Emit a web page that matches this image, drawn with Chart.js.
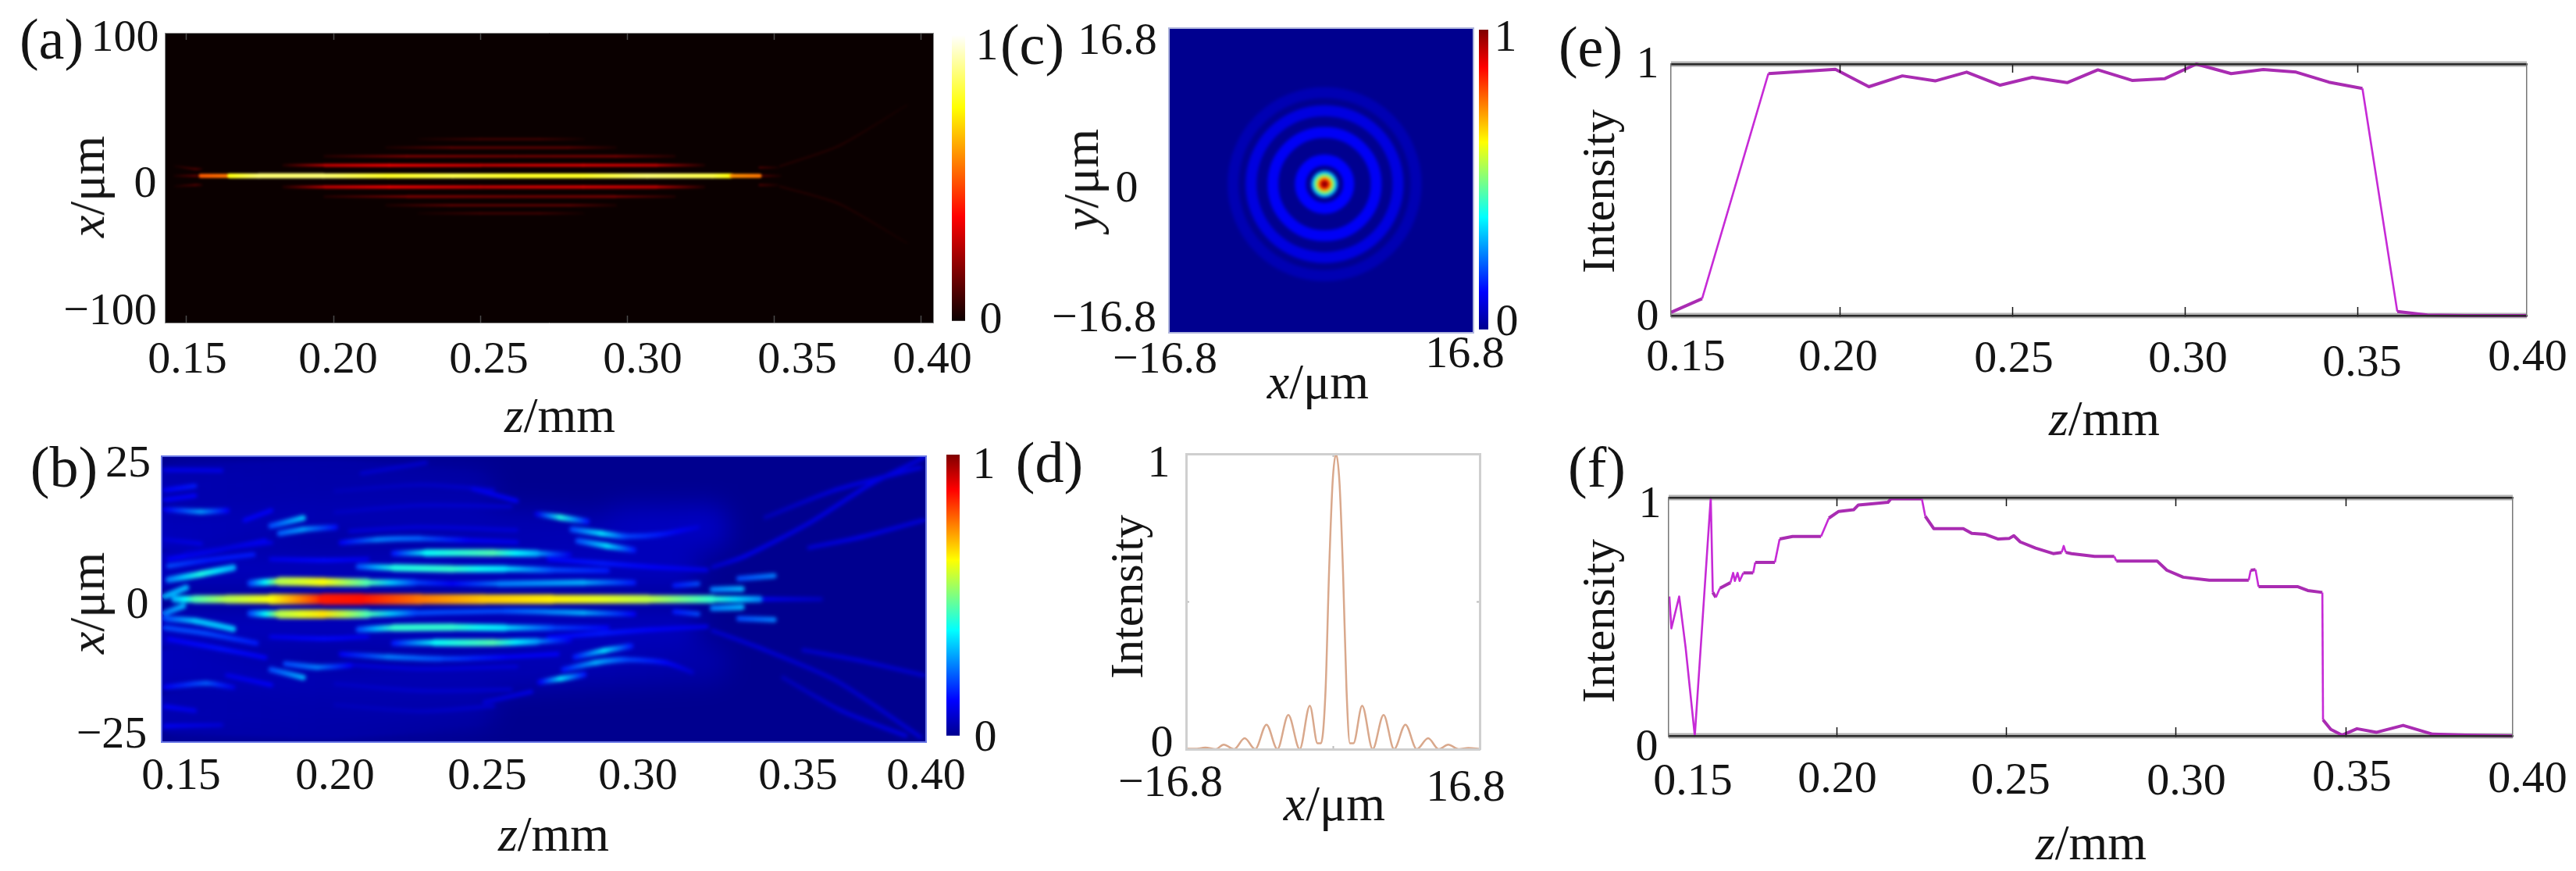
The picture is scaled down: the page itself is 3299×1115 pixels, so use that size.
<!DOCTYPE html>
<html>
<head>
<meta charset="utf-8">
<title>Intensity panels</title>
<script src="https://cdn.jsdelivr.net/npm/chart.js@4"></script>
<style>
html, body { margin:0; padding:0; background:#fff; }
#page { position:relative; width:3299px; height:1115px; overflow:hidden; background:#fff; }
#page canvas { position:absolute; left:0; top:0; }
.txt { position:absolute; white-space:nowrap; color:#141414; font-family:"Liberation Serif",serif; line-height:1; }
</style>
</head>
<body>
<div id="page"></div>
<script>
// ---- tick values and labels
const zTicks = [0.15, 0.20, 0.25, 0.30, 0.35, 0.40];
const zLabels = ['0.15', '0.20', '0.25', '0.30', '0.35', '0.40'];
const xaTicks = [100, 0, -100];
const xaLabels = ['100', '0', '\u2212100'];
const xbTicks = [25, 0, -25];
const xbLabels = ['25', '0', '\u221225'];
const spanTicks = [-16.8, 0, 16.8];
const spanLabelsX = ['\u221216.8', '', '16.8'];
const cYLabels = ['16.8', '0', '\u221216.8'];
const cYTicks = [16.8, 0, -16.8];
const intTicks = [0, 0.5, 1];
const intLabels = ['0', '', '1'];
const barTicks = [1, 0];
const barLabels = ['1', '0'];

// ---- panel (a): [z, x, level]
const aCore = [[0.1548,1.3,0.5],[0.1645,1.3,0.54],[0.1647,1.3,0.76],[0.1746,1.3,0.86],[0.1966,1.3,0.86],[0.2186,1.3,0.78],[0.2407,1.3,0.82],[0.2627,1.3,0.78],[0.2848,1.3,0.78],[0.3068,1.3,0.86],[0.3288,1.3,0.82],[0.3353,1.3,0.74],[0.3355,1.3,0.58],[0.3450,1.3,0.54]];
const aLobes = [
  [[0.183,8.6,0.03],[0.197,8.6,0.26],[0.219,8.6,0.33],[0.250,8.6,0.27],[0.285,8.6,0.3],[0.310,8.6,0.26],[0.326,8.6,0.03]],
  [[0.183,-6.4,0.03],[0.197,-6.4,0.26],[0.219,-6.4,0.33],[0.250,-6.4,0.27],[0.285,-6.4,0.3],[0.310,-6.4,0.26],[0.326,-6.4,0.03]],
  [[0.197,14.8,0.03],[0.225,14.8,0.16],[0.262,14.8,0.14],[0.296,14.8,0.15],[0.316,14.8,0.03]],
  [[0.197,-13.0,0.03],[0.225,-13.0,0.16],[0.262,-13.0,0.14],[0.296,-13.0,0.15],[0.316,-13.0,0.03]],
  [[0.218,20.8,0.02],[0.240,20.8,0.11],[0.280,20.8,0.11],[0.296,20.8,0.02]],
  [[0.218,-19.0,0.02],[0.240,-19.0,0.11],[0.280,-19.0,0.11],[0.296,-19.0,0.02]],
  [[0.229,26.6,0.01],[0.250,26.6,0.07],[0.270,26.6,0.07],[0.285,26.6,0.01]],
  [[0.229,-24.6,0.01],[0.250,-24.6,0.07],[0.270,-24.6,0.07],[0.285,-24.6,0.01]],
  [[0.146,8,0.01],[0.153,6,0.09],[0.155,6,0.04]],
  [[0.146,1.3,0.02],[0.153,1.3,0.11],[0.155,1.3,0.05]],
  [[0.146,-6,0.01],[0.153,-5,0.09],[0.155,-5,0.04]],
  [[0.345,7,0.08],[0.351,7,0.02]],
  [[0.345,1.3,0.1],[0.352,1.3,0.02]],
  [[0.345,-5,0.08],[0.351,-5,0.02]],
  [[0.352,8,0.03],[0.372,22,0.03],[0.395,50,0.01]],
  [[0.352,-6,0.03],[0.372,-18,0.03],[0.395,-45,0.01]]
];

// ---- panel (b): [z, x, level]
const bHaze = [
  [[0.146,20,0.04],[0.200,21,0.03],[0.250,19,0.03]],
  [[0.146,12,0.05],[0.200,14,0.04],[0.280,12,0.04],[0.330,11,0.03]],
  [[0.146,5,0.05],[0.320,5,0.05]],
  [[0.146,-5,0.05],[0.320,-5,0.05]],
  [[0.146,-12,0.05],[0.200,-14,0.04],[0.280,-12,0.04],[0.330,-11,0.03]],
  [[0.146,-20,0.04],[0.200,-21,0.03],[0.250,-19,0.03]],
  [[0.300,13,0.05],[0.330,13,0.06]]
];
const bFine = [
  [[0.180,7.0,0.1],[0.198,6.8,0.13],[0.213,7.0,0.1]],
  [[0.275,7.0,0.12],[0.293,6.3,0.15],[0.311,5.6,0.12],[0.329,5.1,0.1]],
  [[0.207,11.9,0.08],[0.231,12.6,0.08],[0.264,12.1,0.08]],
  [[0.202,15.2,0.06],[0.231,16.4,0.07],[0.262,16.2,0.07]],
  [[0.202,18.9,0.05],[0.231,20,0.06],[0.256,19.1,0.07]],
  [[0.145,7,0.12],[0.163,8.7,0.14],[0.178,10.2,0.12]],
  [[0.180,-6.6,0.1],[0.198,-6.9,0.13],[0.213,-6.6,0.1]],
  [[0.275,-6.7,0.12],[0.293,-6,0.15],[0.311,-5.3,0.12],[0.329,-4.8,0.1]],
  [[0.207,-11.5,0.08],[0.231,-12.2,0.08],[0.264,-11.8,0.08]],
  [[0.202,-14.8,0.06],[0.231,-16,0.07],[0.262,-15.8,0.07]],
  [[0.202,-18.5,0.05],[0.231,-19.6,0.06],[0.256,-18.7,0.07]],
  [[0.145,-7,0.12],[0.163,-8.7,0.14],[0.178,-10.2,0.12]]
];
const bUpper = [
  [[0.173,2.8,0.2],[0.183,3.1,0.55],[0.198,3.0,0.62],[0.213,2.9,0.45],[0.229,2.9,0.2],[0.242,2.7,0.12],[0.258,2.7,0.25],[0.287,2.9,0.3],[0.304,2.9,0.15]],
  [[0.210,5.7,0.2],[0.222,5.5,0.4],[0.242,5.3,0.42],[0.260,5.3,0.35],[0.276,5.1,0.2],[0.295,5.0,0.15]],
  [[0.222,8.0,0.15],[0.233,8.1,0.38],[0.256,8.1,0.45],[0.271,8.0,0.3],[0.282,7.8,0.1]],
  [[0.204,9.9,0.12],[0.216,10.4,0.25],[0.231,10.6,0.22],[0.247,10.3,0.12],[0.264,10.0,0.1]],
  [[0.271,14.9,0.1],[0.279,14.3,0.4],[0.288,13.6,0.15]],
  [[0.283,12.2,0.2],[0.293,11.5,0.35],[0.301,11.0,0.2],[0.313,11.3,0.15],[0.326,12.6,0.08]],
  [[0.285,10.2,0.2],[0.295,9.3,0.35],[0.304,8.6,0.15]],
  [[0.180,12.8,0.2],[0.191,14.2,0.32]],
  [[0.183,11.5,0.22],[0.191,12.2,0.28],[0.202,12.6,0.14]],
  [[0.144,15.7,0.12],[0.156,15.3,0.28],[0.165,15.5,0.12]],
  [[0.144,19.1,0.12],[0.154,19.8,0.15]],
  [[0.144,22.6,0.1],[0.163,22.5,0.1]],
  [[0.144,17.4,0.12],[0.154,18.1,0.12]],
  [[0.171,13.8,0.12],[0.180,15.5,0.12]],
  [[0.145,3.4,0.25],[0.156,4.4,0.4],[0.167,5.5,0.3]],
  [[0.145,5.8,0.2],[0.158,6.8,0.15],[0.174,7.8,0.15]],
  [[0.151,8.0,0.08],[0.180,9.9,0.1]],
  [[0.144,0.5,0.3],[0.151,2.0,0.3]],
  [[0.144,10.4,0.08],[0.156,9.7,0.1]],
  [[0.211,22,0.07],[0.233,23.9,0.07]],
  [[0.249,19.3,0.1],[0.264,17.2,0.12]]
];
const bLower = [
  [[0.173,-2.5,0.2],[0.183,-2.6,0.55],[0.198,-2.6,0.65],[0.213,-2.6,0.45],[0.229,-2.4,0.2],[0.260,-2.1,0.2],[0.287,-2.4,0.3],[0.304,-2.6,0.12]],
  [[0.210,-5.3,0.2],[0.222,-5.0,0.42],[0.242,-4.9,0.42],[0.260,-5.0,0.35],[0.276,-5.0,0.2],[0.295,-5.0,0.12]],
  [[0.222,-7.7,0.15],[0.236,-7.6,0.38],[0.256,-7.6,0.45],[0.271,-7.4,0.28],[0.282,-7.2,0.1]],
  [[0.204,-9.6,0.12],[0.220,-10.1,0.25],[0.238,-10.4,0.2],[0.260,-10.1,0.12],[0.278,-9.6,0.12]],
  [[0.272,-14.5,0.12],[0.279,-13.9,0.35],[0.287,-13.2,0.15]],
  [[0.280,-12.3,0.15],[0.291,-11.1,0.3],[0.301,-10.6,0.2],[0.315,-11.1,0.13],[0.324,-12.8,0.07]],
  [[0.284,-10.1,0.15],[0.294,-9.0,0.35],[0.303,-8.2,0.15]],
  [[0.180,-12.3,0.2],[0.191,-13.7,0.3]],
  [[0.185,-11.3,0.2],[0.196,-11.9,0.25],[0.207,-11.6,0.12]],
  [[0.144,-15.4,0.12],[0.158,-14.7,0.22],[0.167,-15.4,0.1]],
  [[0.144,-18.8,0.12],[0.154,-19.5,0.1]],
  [[0.144,-22.2,0.12],[0.163,-22,0.08]],
  [[0.144,-3.4,0.2],[0.154,-3.8,0.32],[0.167,-5.2,0.32]],
  [[0.144,-5,0.2],[0.158,-6,0.2],[0.175,-7.7,0.15]],
  [[0.165,-13.3,0.1],[0.180,-15,0.12]],
  [[0.144,-2.4,0.25],[0.150,-1.2,0.3]],
  [[0.253,-18,0.08],[0.269,-16.2,0.1]]
];
const bRight = [
  [[0.340,3.6,0.2],[0.352,4.1,0.25]],
  [[0.331,1.7,0.25],[0.341,1.8,0.3]],
  [[0.318,2.4,0.15],[0.326,2.7,0.2]],
  [[0.340,-3.4,0.2],[0.352,-3.6,0.25]],
  [[0.331,-1.6,0.25],[0.341,-1.4,0.3]],
  [[0.318,-2.2,0.15],[0.326,-2.6,0.2]],
  [[0.346,0,0.12],[0.368,0,0.06]],
  [[0.331,5.6,0.07],[0.342,7.5,0.1],[0.364,13.3,0.09],[0.385,20.1,0.1],[0.403,24.7,0.08]],
  [[0.349,14.3,0.05],[0.373,19.1,0.09],[0.402,23,0.09]],
  [[0.364,9,0.08],[0.382,10.9,0.1],[0.403,13.8,0.08]],
  [[0.331,-5.5,0.07],[0.349,-8.9,0.08],[0.373,-14.2,0.07],[0.402,-24.1,0.08]],
  [[0.355,-13.7,0.05],[0.375,-19.5,0.08],[0.397,-23.9,0.09]],
  [[0.362,-8.9,0.07],[0.382,-10.8,0.08],[0.403,-13.3,0.07]]
];
const bCentral = [[0.147,0,0.3],[0.154,0,0.45],[0.165,0,0.55],[0.180,0,0.62],[0.198,0,0.85],[0.211,0,0.86],[0.231,0,0.76],[0.253,0,0.68],[0.276,0,0.64],[0.309,0,0.56],[0.331,0,0.42],[0.347,0,0.26]];

// ---- panel (c): centre spot and rings, radius in um
const cCentre = [0.37, -0.4];
const cRingRadius = [10.1, 8.1, 5.7, 2.67];
const cRingLevel = [0.04, 0.09, 0.115, 0.125];
const cSpotRadius = [1.45, 1.15, 0.85, 0.55, 0.3];
const cSpotLevel = [0.3, 0.5, 0.7, 0.9, 1.0];

// ---- panel (d)
const dX = [-16.8,-15.8,-14.6,-13.4,-12.5,-11.3,-10.1,-8.9,-7.6,-6.35,-5.1,-3.8,-2.64,-1.76,-1.36,-0.84,-0.44,-0.04,0.36,0.76,1.16,1.56,1.95,2.35,3.35,4.55,5.8,7.0,8.3,9.6,10.9,12.1,13.2,14.4,15.5,16.8];
const dY = [0.002,0.001,0.005,0,0.015,0,0.037,0,0.083,0,0.116,0,0.147,0.02,0.02,0.2,0.6,0.9,1,0.9,0.6,0.2,0.02,0.02,0.147,0,0.116,0,0.083,0,0.037,0,0.015,0,0.004,0.001];

// ---- panel (e)
const eZ = [0.1511,0.1601,0.1793,0.1987,0.2084,0.2181,0.2276,0.2367,0.2464,0.2557,0.2658,0.2747,0.2846,0.2941,0.3032,0.3133,0.3226,0.3321,0.3416,0.3513,0.3614,0.3701,0.381,0.3989];
const eI = [0.013,0.067,0.962,0.979,0.91,0.953,0.933,0.968,0.916,0.947,0.926,0.977,0.935,0.942,1,0.962,0.978,0.968,0.928,0.903,0.016,0.002,0,0];

// ---- panel (f)
const fZ = [0.1507,0.1513,0.1536,0.1555,0.1582,0.1629,0.1635,0.1644,0.1656,0.1687,0.1695,0.17,0.1708,0.1714,0.1725,0.1754,0.176,0.1818,0.1832,0.187,0.1954,0.1977,0.2006,0.205,0.2064,0.2102,0.2151,0.216,0.2251,0.2261,0.2286,0.2373,0.2398,0.2437,0.2476,0.2509,0.2522,0.2541,0.2586,0.2638,0.2663,0.2669,0.2675,0.2692,0.276,0.2818,0.2824,0.2944,0.2973,0.3021,0.3098,0.3214,0.322,0.3234,0.3243,0.3359,0.3388,0.3431,0.3433,0.3456,0.3489,0.3533,0.3591,0.3669,0.3756,0.3852,0.3992];
const fI = [0.585,0.451,0.585,0.37,0,1,0.602,0.581,0.62,0.643,0.684,0.65,0.684,0.65,0.684,0.684,0.728,0.728,0.826,0.837,0.837,0.914,0.942,0.949,0.969,0.974,0.98,0.995,0.995,0.922,0.87,0.87,0.85,0.846,0.826,0.829,0.84,0.814,0.788,0.765,0.77,0.797,0.77,0.765,0.753,0.753,0.734,0.734,0.695,0.666,0.653,0.653,0.695,0.698,0.626,0.626,0.61,0.602,0.067,0.027,0.003,0.03,0.015,0.044,0.007,0.003,0];

// ---- colour maps
const jetStops = [[0,'#00008f'],[0.125,'#0000ff'],[0.375,'#00ffff'],[0.625,'#ffff00'],[0.875,'#ff0000'],[1,'#800000']];
const hotStops = [[0,'#0a0000'],[0.365,'#ff0000'],[0.746,'#ffff00'],[1,'#ffffff']];

function hex2rgb(h){ return [1,3,5].map(i => parseInt(h.substr(i,2),16)); }
function level2color(stops, v){
  v = Math.max(0, Math.min(1, v));
  for(let i=1; i<stops.length; i++){
    if(v <= stops[i][0]){
      const t = (v-stops[i-1][0])/(stops[i][0]-stops[i-1][0]);
      const a = hex2rgb(stops[i-1][1]), b = hex2rgb(stops[i][1]);
      return 'rgb('+a.map((c,k) => Math.round(c+(b[k]-c)*t)).join(',')+')';
    }
  }
  return stops[stops.length-1][1];
}

const FONT = '"Liberation Serif", serif';
const W = 3299, H = 1115;
const page = document.getElementById('page');
const gradientCtx = document.createElement('canvas').getContext('2d');

function newCanvas(){
  const c = document.createElement('canvas');
  c.width = W; c.height = H;
  page.appendChild(c);
  return c.getContext('2d');
}

function padOf(box){
  return {left:box.l, top:box.t, right:W-box.r, bottom:H-box.b};
}

// one frame side of a panel; labels get their final place in placeLabels
function axis(position, range, ticks, labels, side){
  const horiz = position=='bottom' || position=='top';
  return {
    type:'linear', position:position, min:range[0], max:range[1],
    afterFit: s => { if(horiz) s.height = 0; else s.width = 0; },
    afterBuildTicks: s => { s.ticks = ticks.map(value => ({value})); },
    ticks:{display:!!labels, mirror:true, autoSkip:false, maxRotation:0, minRotation:0, padding:0, z:2,
      color:'#141414', font:{family:FONT, size:58},
      callback:(v,i) => labels ? labels[i] : ''},
    grid:{display:true, drawOnChartArea:false, drawTicks:true, z:2,
      tickLength:-(side.tickLen||0), tickWidth:side.tickWidth||1.5,
      tickColor: c => (c.tick && c.tick.value>range[0] && c.tick.value<range[1]) ? side.tickColor : 'rgba(0,0,0,0)'},
    border:{display:true, color:side.color, width:side.width, z:2}
  };
}

function placeLabels(xPos, yPos){
  const put = (scale, pos, chart) => {
    if(!pos) return;
    scale.getLabelItems(chart.chartArea).forEach((it,i) => {
      it.options.translation = pos[i];
      it.options.textAlign = 'center';
      it.options.textBaseline = 'middle';
      it.textOffset = 0;
    });
  };
  return {id:'placeLabels', beforeDraw(chart){
    put(chart.scales.x, xPos, chart);
    put(chart.scales.y, yPos, chart);
  }};
}

// grey blur around the dark top and bottom rules of (e) and (f)
const frameHalo = {id:'frameHalo', beforeDatasetsDraw(chart){
  const a = chart.chartArea, ctx = chart.ctx;
  ctx.save();
  ctx.strokeStyle = '#b4b4b4';
  ctx.lineWidth = 7;
  [a.top, a.bottom].forEach(y => {
    ctx.beginPath();
    ctx.moveTo(a.left, y);
    ctx.lineTo(a.right, y);
    ctx.stroke();
  });
  ctx.restore();
}};

// field background, then soften what the datasets painted. hazeCount datasets get a wider blur first
function heatLayer(bg, blur, hazeCount, hazeBlur){
  const soften = (chart, px) => {
    const a = chart.chartArea, ctx = chart.ctx;
    ctx.save();
    ctx.beginPath();
    ctx.rect(a.left, a.top, a.right-a.left, a.bottom-a.top);
    ctx.clip();
    ctx.filter = 'blur('+px+'px)';
    ctx.drawImage(ctx.canvas, 0, 0);
    ctx.restore();
  };
  return {id:'heatLayer',
    beforeDatasetsDraw(chart){
      const a = chart.chartArea;
      chart.ctx.fillStyle = bg;
      chart.ctx.fillRect(a.left, a.top, a.right-a.left, a.bottom-a.top);
    },
    afterDatasetDraw(chart, args){
      if(hazeCount && args.index == chart.data.datasets.length-hazeCount) soften(chart, hazeBlur);
    },
    afterDatasetsDraw(chart){ soften(chart, blur); }
  };
}

// a streak is a line through [z, x, level] points, coloured and thickened by level
function streak(pts, stops, widthOf){
  const data = pts.map(p => ({x:p[0], y:p[1], v:p[2]}));
  return {
    type:'line', data:data, pointRadius:0, borderWidth:widthOf(pts[0][2]), borderColor:level2color(stops,pts[0][2]),
    borderCapStyle:'round', tension:0.25, clip:0, fill:false,
    segment:{
      borderColor: s => {
        const lg = gradientCtx.createLinearGradient(s.p0.x, s.p0.y, s.p1.x, s.p1.y);
        lg.addColorStop(0, level2color(stops, data[s.p0DataIndex].v));
        lg.addColorStop(0.5, level2color(stops, (data[s.p0DataIndex].v+data[s.p1DataIndex].v)/2));
        lg.addColorStop(1, level2color(stops, data[s.p1DataIndex].v));
        return lg;
      },
      borderWidth: s => widthOf((data[s.p0DataIndex].v+data[s.p1DataIndex].v)/2)+s.p0DataIndex*0.001
    }
  };
}

// the magenta traces are thin on the steep flanks and heavy along the top
function traceLine(xs, ys){
  const steep = s => Math.abs(s.p1.y-s.p0.y) > 2*Math.abs(s.p1.x-s.p0.x);
  return {type:'line', data:xs.map((x,i) => ({x:x,y:ys[i]})), borderColor:'#b02cbc', borderWidth:4, pointRadius:0, tension:0, clip:false,
    borderJoinStyle:'round',
    segment:{
      borderWidth: s => steep(s) ? 2.6 : 4,
      borderColor: s => steep(s) ? '#c62ad6' : '#a92cb2'
    }};
}

// datasets are listed back to front here; Chart.js paints the first one last
function makeChart(box, xSpec, ySpec, style, datasets, extraPlugins){
  const ctx = newCanvas();
  return new Chart(ctx, {
    data:{datasets:datasets.slice().reverse()},
    options:{
      responsive:false, animation:false, devicePixelRatio:1, events:[],
      parsing:{xAxisKey:'x', yAxisKey:'y'},
      layout:{autoPadding:false, padding:padOf(box)},
      plugins:{legend:{display:false}, tooltip:{enabled:false}},
      scales:{
        x:axis('bottom', xSpec.range, xSpec.ticks, xSpec.labels, style.h),
        xt:axis('top', xSpec.range, xSpec.ticks, null, style.h),
        y:axis('left', ySpec.range, ySpec.ticks, ySpec.labels, style.v),
        yr:axis('right', ySpec.range, ySpec.ticks, null, style.v)
      }
    },
    plugins:[placeLabels(xSpec.pos, ySpec.pos)].concat(extraPlugins||[])
  });
}

function colorbar(box, stops, labelPos){
  const ctx = newCanvas();
  return new Chart(ctx, {
    type:'bar',
    data:{labels:['level'], datasets:[{
      data:[[0,1]], barPercentage:1, categoryPercentage:1, borderWidth:0,
      backgroundColor: c => {
        const g = c.chart.ctx.createLinearGradient(0, box.b, 0, box.t);
        stops.forEach(s => g.addColorStop(s[0], s[1]));
        return g;
      }
    }]},
    options:{
      responsive:false, animation:false, devicePixelRatio:1, events:[],
      layout:{autoPadding:false, padding:padOf(box)},
      plugins:{legend:{display:false}, tooltip:{enabled:false}},
      scales:{
        x:{display:false, type:'category'},
        y:axis('right', [0,1], barTicks, barLabels, {color:'rgba(0,0,0,0)', width:0, tickColor:'rgba(0,0,0,0)'})
      }
    },
    plugins:[placeLabels(null, labelPos)]
  });
}

// ---- layout of the six panels, in page pixels
const boxA = {l:211,r:1195,t:42,b:413}, boxB = {l:207,r:1186,t:584,b:950};
const boxC = {l:1497,r:1887,t:36,b:426}, boxD = {l:1519,r:1895,t:581,b:959};
const boxE = {l:2140,r:3236,t:82,b:404}, boxF = {l:2137,r:3218,t:637,b:942};
const barA = {l:1219,r:1236,t:45,b:411}, barB = {l:1212,r:1229,t:582,b:942}, barC = {l:1894,r:1906,t:38,b:422};

const faint = {color:'#8a8a8a', width:1, tickLen:9, tickColor:'#4a4a4a'};
const faintV = {color:'#8a8a8a', width:1};
const blueEdge = {color:'#6a78e6', width:2};
const cEdge = {color:'#aeb4dc', width:2};
const greyD = {color:'#cfcfcf', width:3, tickLen:4, tickColor:'#bdbdbd', tickWidth:2};
const lineH = {color:'#2a2a2a', width:2.5, tickLen:11, tickColor:'#111', tickWidth:1.5};
const lineV = {color:'#777777', width:1.5};

const wideA = v => 3+4*v;
const wideB = v => 4+12*v;
const wideHaze = () => 50;

makeChart(boxA,
  {range:[0.1426,0.404], ticks:zTicks, labels:zLabels, pos:[[240,462],[433,462],[626,462],[823,462],[1021,462],[1194,462]]},
  {range:[-100,100], ticks:xaTicks, labels:xaLabels, pos:[[160,50],[186,237],[141,400]]},
  {h:faint, v:faintV},
  aLobes.map(s => streak(s, hotStops, wideA)).concat([streak(aCore, hotStops, wideA)]),
  [heatLayer('#0a0000', 1.5)]);
colorbar(barA, hotStops, [[1264,61],[1269,411]]);

makeChart(boxB,
  {range:[0.1426,0.404], ticks:zTicks, labels:zLabels, pos:[[232,995],[429,995],[624,995],[817,995],[1022,995],[1186,995]]},
  {range:[-25,25], ticks:xbTicks, labels:xbLabels, pos:[[164,595],[176,776],[143,942]]},
  {h:blueEdge, v:blueEdge},
  bHaze.map(s => streak(s, jetStops, wideHaze))
    .concat(bFine.map(s => streak(s, jetStops, wideB)))
    .concat(bUpper.map(s => streak(s, jetStops, wideB)))
    .concat(bLower.map(s => streak(s, jetStops, wideB)))
    .concat(bRight.map(s => streak(s, jetStops, wideB)))
    .concat([streak(bCentral, jetStops, wideB)]),
  [heatLayer('#00008f', 2.5, bHaze.length, 16)]);
colorbar(barB, jetStops, [[1260,597],[1262,946]]);

const cScaleR = (c, r) => Math.abs(c.chart.scales.x.getPixelForValue(cCentre[0]+r)-c.chart.scales.x.getPixelForValue(cCentre[0]));
const cRings = cRingRadius.map((r,i) => ({type:'scatter', clip:0, data:[{x:cCentre[0],y:cCentre[1]}],
  pointRadius:c => cScaleR(c,r), pointBorderWidth:14, pointBorderColor:level2color(jetStops,cRingLevel[i]), pointBackgroundColor:'rgba(0,0,0,0)'}));
const cSpot = cSpotRadius.map((r,i) => ({type:'scatter', clip:0, data:[{x:cCentre[0],y:cCentre[1]}],
  pointRadius:c => cScaleR(c,r), pointBorderWidth:0, pointBackgroundColor:level2color(jetStops,cSpotLevel[i])}));
makeChart(boxC,
  {range:[-16.8,16.8], ticks:spanTicks, labels:spanLabelsX, pos:[[1492,462],[1692,462],[1876,455]]},
  {range:[-16.8,16.8], ticks:cYTicks, labels:cYLabels, pos:[[1431,54],[1443,243],[1414,409]]},
  {h:cEdge, v:cEdge},
  cRings.concat(cSpot),
  [heatLayer('#00008f', 2)]);
colorbar(barC, jetStops, [[1928,50],[1930,414]]);

makeChart(boxD,
  {range:[-16.8,16.8], ticks:spanTicks, labels:spanLabelsX, pos:[[1499,1004],[1707,1004],[1877,1010]]},
  {range:[0,1], ticks:intTicks, labels:intLabels, pos:[[1488,953],[1488,770],[1484,595]]},
  {h:greyD, v:greyD},
  [{type:'line', data:dX.map((x,i) => ({x:x,y:dY[i]})), borderColor:'#d9a88c', borderWidth:2.5, pointRadius:0, cubicInterpolationMode:'monotone', clip:false}]);

makeChart(boxE,
  {range:[0.1511,0.3989], ticks:zTicks, labels:zLabels, pos:[[2159,459],[2354,459],[2579,461],[2802,461],[3025,466],[3237,459]]},
  {range:[0,1], ticks:intTicks, labels:intLabels, pos:[[2110,407],[2110,245],[2110,84]]},
  {h:lineH, v:lineV},
  [traceLine(eZ, eI)],
  [frameHalo]);

makeChart(boxF,
  {range:[0.1505,0.3992], ticks:zTicks, labels:zLabels, pos:[[2168,1002],[2353,999],[2575,1001],[2800,1002],[3012,997],[3237,999]]},
  {range:[0,1], ticks:intTicks, labels:intLabels, pos:[[2109,958],[2110,800],[2113,647]]},
  {h:lineH, v:lineV},
  [traceLine(fZ, fI)],
  [frameHalo]);

// ---- panel letters and axis names (mixed italic, so plain text on top)
const texts = [
  ['(a)',66,74,50,0], ['(b)',82,74,598,0], ['(c)',1322,74,57,0], ['(d)',1344,74,592,0], ['(e)',2037,74,60,0], ['(f)',2045,74,598,0],
  ['<i>x</i>/\u03bcm',112,64,239,-90], ['<i>x</i>/\u03bcm',112,64,772,-90], ['<i>y</i>/\u03bcm',1385,64,230,-90],
  ['Intensity',1443,60,764,-90], ['Intensity',2047,60,245,-90], ['Intensity',2047,60,795,-90],
  ['<i>z</i>/mm',717,64,532,0], ['<i>z</i>/mm',709,64,1068,0], ['<i>z</i>/mm',2695,64,536,0], ['<i>z</i>/mm',2678,64,1079,0],
  ['<i>x</i>/\u03bcm',1688,64,489,0], ['<i>x</i>/\u03bcm',1709,64,1029,0]
];
texts.forEach(t => {
  const d = document.createElement('div');
  d.className = 'txt';
  d.innerHTML = t[0];
  d.style.left = t[1]+'px';
  d.style.top = t[3]+'px';
  d.style.fontSize = t[2]+'px';
  d.style.transform = 'translate(-50%,-50%)'+(t[4] ? ' rotate('+t[4]+'deg)' : '');
  page.appendChild(d);
});
</script>
</body>
</html>
